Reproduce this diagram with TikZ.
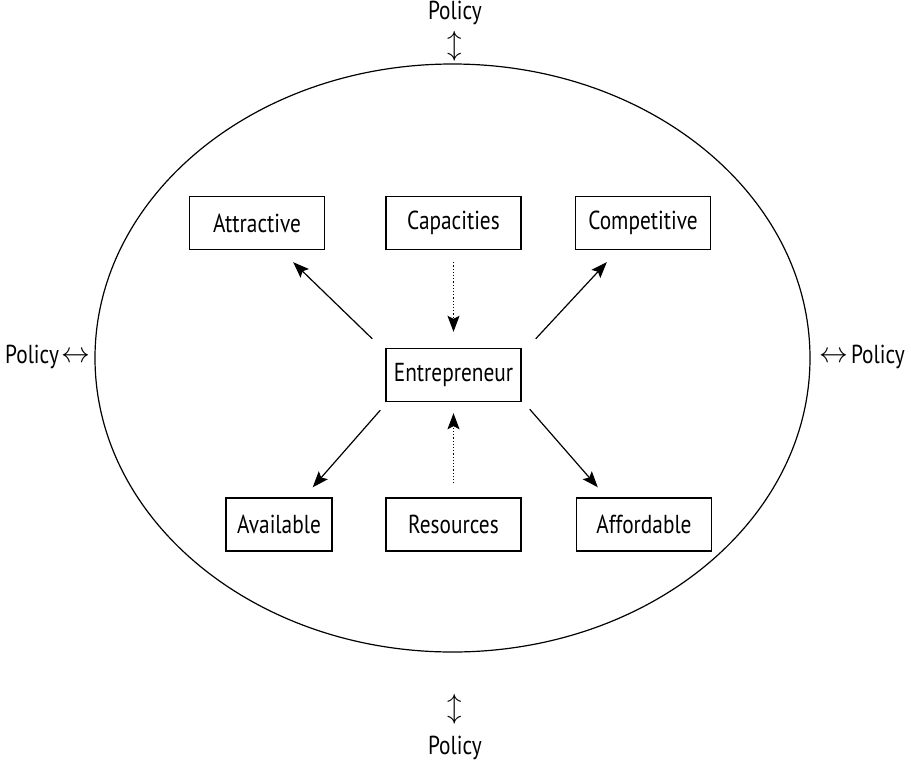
\documentclass[tikz,border=0pt]{standalone}
\usepackage{fontspec}
\setmainfont[FakeStretch=0.82]{PT Sans}
\usetikzlibrary{
    arrows.meta,
    positioning
}
\newcommand{\vpolarrow}{{\fontsize{14}{14}\selectfont$\updownarrow$}}
\tikzset{
    % --- Labelled box around each factor ---
    factor/.style = {
        rectangle, draw, line width=0.7pt,
        minimum width=67.5pt, minimum height=26.5pt,
        inner sep=2pt, align=center
    },
    % --- Narrow variant ---
    narrow factor/.style = {
        factor, minimum width=53pt
    },
    % --- Policy label outside the ring ---
    policy/.style = {
        inner sep=0pt, align=center
    },
    % --- Two-headed policy arrow glyph ---
    policy arrow/.style = {
        inner sep=0pt, font=\fontsize{14}{14}\selectfont
    },
    % --- Solid influence arrow ---
    flow arrow/.style = {
        -{Stealth[length=8pt, width=6pt, inset=1.5pt]}, line width=0.6pt
    },
    % --- Dotted input arrow ---
    input arrow/.style = {
        -{Stealth[length=8pt, width=6pt, inset=1.5pt]}, densely dotted, line width=0.6pt
    }
}

\begin{document}
\begin{tikzpicture}[
    x=0.5pt, y=-0.5pt,
    font=\fontsize{13}{15}\selectfont
]
\useasboundingbox (0,0) rectangle (911,762);

% ---------------------------------------------------------
% Enclosing ring
% ---------------------------------------------------------
\draw[line width=0.6pt] (452.5,358) ellipse [x radius=357.5, y radius=294];

% ---------------------------------------------------------
% Centre and factor boxes
% ---------------------------------------------------------
\node[factor] (Entre)   at (453.5,375)   {Entrepreneur};
\node[factor] (Cap)     at (453.5,223)   {Capacities};
\node[factor] (Attr)    at (257,223)     {Attractive};
\node[factor] (Comp)    at (643,223)     {Competitive};
\node[factor] (Res)     at (453.5,524.5) {Resources};
\node[narrow factor] (Avail) at (279,524.5) {Available};
\node[factor] (Afford)  at (644,524.5)   {Affordable};

% ---------------------------------------------------------
% Inputs into the entrepreneur
% ---------------------------------------------------------
\draw[input arrow, shorten <=6pt, shorten >=8pt] (Cap) -- (Entre);
\draw[input arrow, shorten <=7pt, shorten >=5.5pt] (Res) -- (Entre);

% ---------------------------------------------------------
% Outputs from the entrepreneur
% ---------------------------------------------------------
\draw[flow arrow] ([shift={(-13,-9)}]Entre.north west) -- ([shift={(-32,12)}]Attr.south east);
\draw[flow arrow] ([shift={(14,-9)}]Entre.north east) -- ([shift={(32,12)}]Comp.south west);
\draw[flow arrow] ([shift={(-5,8)}]Entre.south west) -- ([shift={(-20,-10)}]Avail.north east);
\draw[flow arrow] ([shift={(8,7)}]Entre.south east) -- ([shift={(22,-10)}]Afford.north west);

% ---------------------------------------------------------
% Policy on all four sides
% ---------------------------------------------------------
\node[policy, anchor=north] (PolTop) at (455,1)   {Policy\\[2pt]\vpolarrow};
\node[policy, anchor=south] (PolBot) at (455,760) {\vpolarrow\\[4pt]Policy};
\node[policy arrow, anchor=east] (PolLeftArr)  at (91,357)  {$\leftrightarrow$};
\node[policy, anchor=east, left=1pt of PolLeftArr] (PolLeft) {Policy};
\node[policy arrow, anchor=west] (PolRightArr) at (819,357) {$\leftrightarrow$};
\node[policy, right=1pt of PolRightArr] (PolRight) {Policy};

\end{tikzpicture}
\end{document}
